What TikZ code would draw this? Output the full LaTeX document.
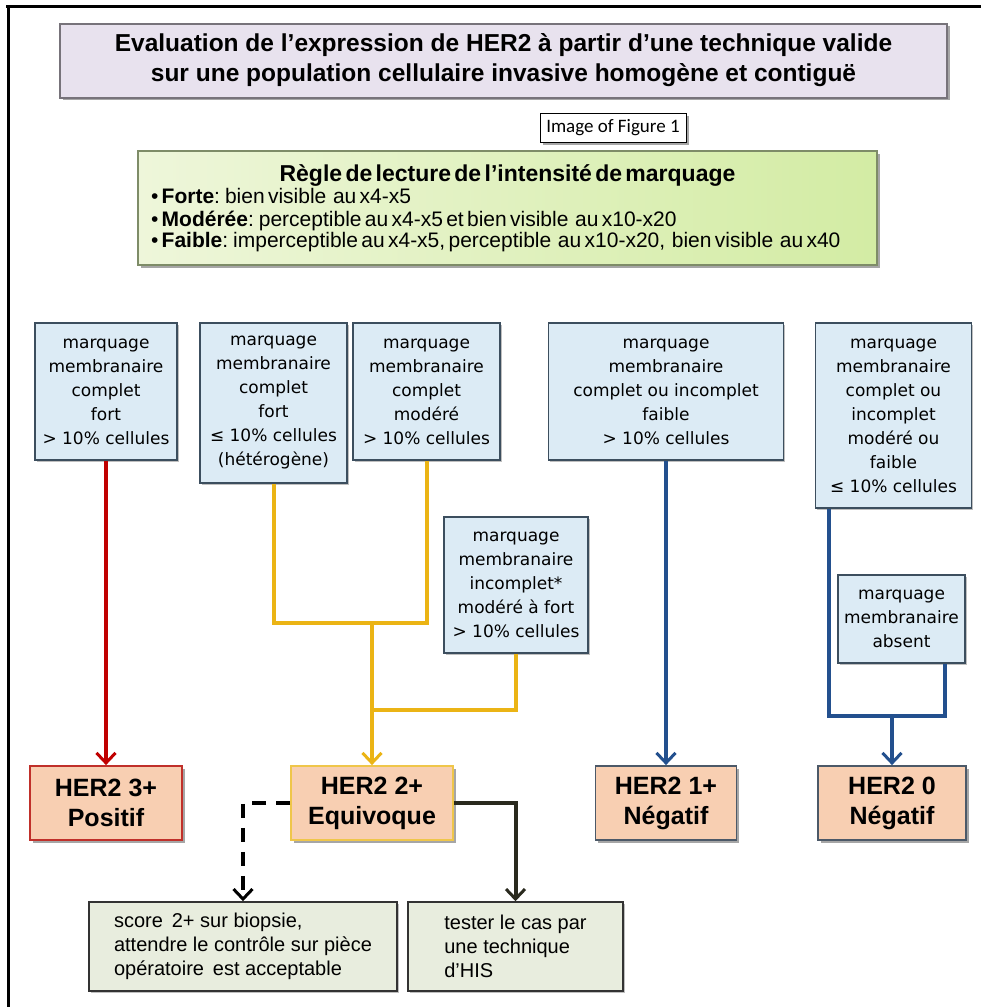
\documentclass[tikz,border=0pt]{standalone}
\usepackage{fontspec}
\setmainfont{Liberation Sans}
\newfontfamily\dvfont{DejaVu Sans}
\newfontfamily\carlfont{Carlito}
\usetikzlibrary{arrows.meta,shadows,calc}
\definecolor{ttlfill}{HTML}{E8E2EE}
\definecolor{ttlbord}{HTML}{77737A}
\definecolor{bfill}{HTML}{DCEBF5}
\definecolor{bbord}{HTML}{3C4E5E}
\definecolor{gleft}{HTML}{EEF6DA}
\definecolor{gright}{HTML}{D3ECA4}
\definecolor{gbord}{HTML}{7E8C68}
\definecolor{hfill}{HTML}{F8CFB2}
\definecolor{hred}{HTML}{C0302A}
\definecolor{hyel}{HTML}{EFC64A}
\definecolor{hblue}{HTML}{4C5968}
\definecolor{cred}{HTML}{C00000}
\definecolor{cyel}{HTML}{EBB415}
\definecolor{cblue}{HTML}{23508E}
\definecolor{cdark}{HTML}{2A2A1E}
\definecolor{nfill}{HTML}{E8EDDE}
\tikzset{
  shd/.style={drop shadow={shadow xshift=2.5pt,shadow yshift=-2.5pt,opacity=0.35,fill=black}},
  ttl/.style={draw=ttlbord,fill=ttlfill,line width=2pt,inner sep=0pt,align=center,
    minimum width=887,minimum height=74,font=\bfseries\fontsize{24.5}{30}\selectfont,shd},
  figbox/.style={draw=black,fill=white,line width=1pt,inner sep=0pt,minimum width=146,
    minimum height=29,font=\carlfont\fontsize{19}{21}\selectfont,shd},
  gbox/.style={draw=gbord,left color=gleft,right color=gright,line width=1.5pt,
    inner xsep=13pt,inner ysep=0pt,minimum height=114,text width=713,shd},
  bluebox/.style={draw=bbord,fill=bfill,line width=1.6pt,inner sep=0pt,align=center,
    font=\dvfont\fontsize{17}{24}\selectfont,
    drop shadow={shadow xshift=1.5pt,shadow yshift=-1.5pt,opacity=0.25,fill=black}},
  herbox/.style={fill=hfill,line width=1.8pt,inner sep=0pt,align=center,minimum height=74,
    font=\bfseries\fontsize{25}{30}\selectfont,shd},
  notebox/.style={draw=black!80,fill=nfill,line width=1.6pt,inner sep=0pt,align=left,
    minimum height=89,font=\fontsize{20}{24}\selectfont,
    drop shadow={shadow xshift=1.5pt,shadow yshift=-1.5pt,opacity=0.25,fill=black}},
  conn/.style={line width=4pt},
  tipa/.style={-{Straight Barb[length=10pt,width=19pt,line width=3pt]}},
  cr/.style={conn,draw=cred},
  cy/.style={conn,draw=cyel},
  cb/.style={conn,draw=cblue},
  cdash/.style={conn,draw=black,dash pattern=on 14pt off 10pt},
  cs/.style={conn,draw=cdark},
}
\begin{document}
\begin{tikzpicture}[x=1pt,y=-1pt]
\useasboundingbox (0,0) rectangle (981,1007);
\fill[white] (0,0) rectangle (981,1007);
% frame (top and left edges)
\draw[line width=3pt] (6,6) -- (981,6);
\draw[line width=3pt] (8,6) -- (8,1007);

\node[ttl] (title) at (503.5,60.5) {Evaluation de l'expression de HER2 à partir d'une technique valide\\sur une population cellulaire invasive homogène et contiguë};
\node[figbox] (fig) at (613,127.5) {Image of Figure 1};
\node[gbox] (rule) at (507.5,208) {{\centering\fontsize{23}{22.5}\selectfont\bfseries Règle de lecture de l'intensité de marquage\par}
\fontsize{21}{22.5}\selectfont • \textbf{Forte}: bien visible \ au x4-x5\\
• \textbf{Modérée}: perceptible au x4-x5 et bien visible \ au x10-x20\\
• \textbf{Faible}: imperceptible au x4-x5, perceptible \ au x10-x20, \ bien visible \ au x40};

\node[bluebox,minimum width=142,minimum height=137] (b1) at (106,391.5) {marquage\\membranaire\\complet\\fort\\> 10\% cellules};
\node[bluebox,minimum width=147,minimum height=160] (b2) at (273.5,403) {marquage\\membranaire\\complet\\fort\\≤ 10\% cellules\\(hétérogène)};
\node[bluebox,minimum width=147,minimum height=137] (b3) at (426.5,391.5) {marquage\\membranaire\\complet\\modéré\\> 10\% cellules};
\node[bluebox,minimum width=235,minimum height=137] (b4) at (666,391.5) {marquage\\membranaire\\complet ou incomplet\\faible\\> 10\% cellules};
\node[bluebox,minimum width=156,minimum height=185] (b5) at (893.5,415.5) {marquage\\membranaire\\complet ou\\incomplet\\modéré ou\\faible\\≤ 10\% cellules};
\node[bluebox,minimum width=144,minimum height=136] (b6) at (516,585) {marquage\\membranaire\\incomplet*\\modéré à fort\\> 10\% cellules};
\node[bluebox,minimum width=127,minimum height=88] (ab) at (901.5,619) {marquage\\membranaire\\absent};

\node[herbox,draw=hred,minimum width=152] (h3) at (106,803) {HER2 3+\\Positif};
\node[herbox,draw=hyel,minimum width=162] (h2) at (372,803) {HER2 2+\\Equivoque};
\node[herbox,draw=hblue,minimum width=141] (h1) at (666,803) {HER2 1+\\Négatif};
\node[herbox,draw=hblue,minimum width=148] (h0) at (892,803) {HER2 0\\Négatif};

\node[notebox,minimum width=308] (n1) at (243,946.5) {score \,2+ sur biopsie,\\attendre le contrôle sur pièce\\opératoire \,est acceptable};
\node[notebox,minimum width=215] (n2) at (515.5,946.5) {tester le cas par\\une technique\\d'HIS};

% red
\draw[cr,tipa] (b1.south) -- (b1.south |- h3.north);
% yellow
\coordinate (jy) at (372,623);
\coordinate (jy2) at (372,710);
\draw[cy] (b2.south) |- (jy) -| (b3.south);
\draw[cy] (b6.south) |- (jy2);
\draw[cy,tipa] (jy) -- (h2.north);
% blue
\draw[cb,tipa] (b4.south) -- (b4.south |- h1.north);
\coordinate (b5o) at ($(b5.south west)+(14,0)$);
\coordinate (abo) at ($(ab.south east)+(-21,0)$);
\coordinate (jb) at (892,716);
\draw[cb] (b5o) |- (jb) -| (abo);
\draw[cb,tipa] (jb) -- (h0.north);
% outcomes
\draw[cdash,tipa] (h2.west) -| (n1.north);
\draw[cs,tipa] (h2.east) -| (n2.north);
\end{tikzpicture}
\end{document}
